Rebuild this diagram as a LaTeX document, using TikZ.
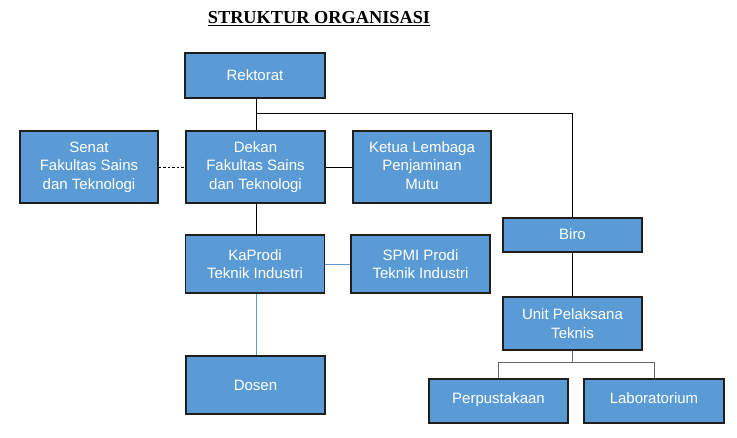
\documentclass[tikz,border=0pt]{standalone}
\usepackage{fontspec}
\setmainfont{Liberation Sans}
\newfontfamily\titlefont{Liberation Serif}
\definecolor{boxblue}{HTML}{5B9BD5}
\definecolor{boxedge}{HTML}{1F1F1F}
\definecolor{linkblue}{HTML}{5B9BD5}
\begin{document}
\begin{tikzpicture}[x=1pt,y=-1pt,
  orgbox/.style={draw=boxedge,line width=1.3pt,fill=boxblue,text=white,align=center,
    font=\fontsize{15}{18.5}\selectfont,inner sep=0pt},
  conn/.style={draw=black,line width=0.8pt},
  grayconn/.style={draw=gray!80!black,line width=0.9pt},
  blueconn/.style={draw=linkblue,line width=0.9pt}]
\useasboundingbox (0,0) rectangle (737,437);
\node[font=\titlefont\bfseries\fontsize{18.3}{20}\selectfont] (title) at (319,18.5) {\underline{STRUKTUR ORGANISASI}};
\node[orgbox,minimum width=140pt,minimum height=45pt] (rek) at (255,75.5) {Rektorat};
\node[orgbox,minimum width=138pt,minimum height=72pt] (senat) at (89,167) {Senat\\Fakultas Sains\\dan Teknologi};
\node[orgbox,minimum width=139pt,minimum height=72pt] (dekan) at (255.5,167) {Dekan\\Fakultas Sains\\dan Teknologi};
\node[orgbox,minimum width=138pt,minimum height=72pt] (ketua) at (422,167) {\raisebox{2pt}{\begin{tabular}{@{}c@{}}Ketua Lembaga\\Penjaminan\\Mutu\end{tabular}}};
\node[orgbox,minimum width=139pt,minimum height=58pt] (kaprodi) at (255,264) {KaProdi\\Teknik Industri};
\node[orgbox,minimum width=139pt,minimum height=58pt] (spmi) at (420.5,264) {SPMI Prodi\\Teknik Industri};
\node[orgbox,minimum width=139pt,minimum height=58pt] (dosen) at (255.5,385) {Dosen};
\node[orgbox,minimum width=139pt,minimum height=34pt] (biro) at (572.5,235) {\raisebox{1.5pt}{Biro}};
\node[orgbox,minimum width=139pt,minimum height=53pt] (upt) at (572.5,323.5) {Unit Pelaksana\\Teknis};
\node[orgbox,minimum width=139pt,minimum height=44pt] (perp) at (498.5,401) {\raisebox{6pt}{Perpustakaan}};
\node[orgbox,minimum width=140pt,minimum height=44pt] (lab) at (654,401) {\raisebox{6pt}{Laboratorium}};
\coordinate (j1) at (256,113);
\coordinate (j2) at (572.5,362);
\draw[conn] (rek.south -| j1) -- (dekan.north -| j1);
\draw[conn] (j1) -| (biro.north);
\draw[conn,dashed,dash pattern=on 2.5pt off 2pt] (senat.east) -- (dekan.west);
\draw[conn] (dekan.east) -- (ketua.west);
\draw[conn] (dekan.south -| j1) -- (kaprodi.north -| j1);
\draw[blueconn] (kaprodi.east) -- (spmi.west);
\draw[blueconn] (kaprodi.south -| j1) -- (dosen.north -| j1);
\draw[conn] (biro.south) -- (upt.north);
\draw[grayconn] (upt.south) -- (j2);
\draw[grayconn] (j2) -| (perp.north);
\draw[grayconn] (j2) -| (lab.north);
\end{tikzpicture}
\end{document}
